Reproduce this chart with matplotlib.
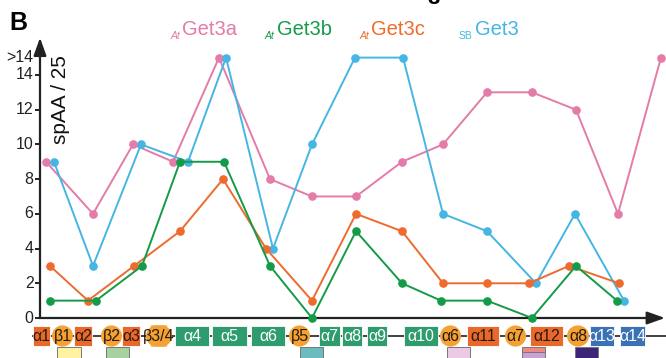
import matplotlib
matplotlib.use("Agg")
import matplotlib.pyplot as plt
from matplotlib.patches import Rectangle, Ellipse, FancyBboxPatch

plt.rcParams['font.family'] = ['Liberation Sans', 'DejaVu Sans']

# spAA scores per secondary-structure position (15 = ">14")
pos_a = [6, 53, 93, 133, 179, 230, 272, 316, 362, 403, 447, 492, 536, 578, 621]
get3a = [9, 6, 10, 9, 15, 8, 7, 7, 9, 10, 13, 13, 12, 6, 15]

pos_b = [10, 56, 102, 140, 184, 230, 272, 316, 362, 401, 447, 492, 536, 577]
get3b = [1, 1, 3, 9, 9, 3, 0, 5, 2, 1, 1, 0, 3, 1]

pos_c = [10, 48, 94, 140, 183, 226, 272, 316, 362, 403, 447, 489, 529, 579]
get3c = [3, 1, 3, 5, 8, 4, 1, 6, 5, 2, 2, 2, 3, 2]

pos_sb = [14, 53, 101, 148, 186, 233, 272, 315, 363, 403, 447, 496, 535, 584]
sbget3 = [9, 3, 10, 9, 15, 4, 10, 15, 15, 6, 5, 2, 6, 1]

ytick_vals = [0, 2, 4, 6, 8, 10, 12, 14, 15]
ytick_labels = ['0', '2', '4', '6', '8', '10', '12', '14', '>14']

# topology: helices drawn as boxes (label, start, end, kind)
helices = [
    ('α1', -7, 10, 'a'), ('α2', 34, 52, 'a'), ('α3', 82, 100, 'a'),
    ('α4', 135, 169, 'g'), ('α5', 172, 207, 'g'), ('α6', 211, 245, 'g'),
    ('α7', 279, 300, 'g'), ('α8', 302, 322, 'g'), ('α9', 327, 347, 'g'),
    ('α10', 364, 398, 'g'), ('α11', 427, 459, 'a'), ('α12', 490, 523, 'a'),
    ('α13', 550, 574, 'b'), ('α14', 580, 605, 'b'),
]
# strands / short elements drawn as round badges (label, start, end)
strands = [
    ('β1', 12, 33), ('β2', 61, 82), ('β3/4', 106, 132), ('β5', 249, 270),
    ('α6', 400, 421), ('α7', 465, 486), ('α8', 527, 549),
]
# colour key squares under the topology (start, end, colours top->bottom)
keys = [
    (17, 41, ['#fff3a3']), (66, 89, ['#a6d29f']), (260, 283, ['#6cbcbf']),
    (407, 430, ['#ecc9e4']), (482, 505, ['#ee8a86', '#c9a2d3']),
    (535, 558, ['#3d2577']),
]

PINK = '#e47ba8'
GREEN = '#139b48'
ORANGE = '#ee6b2d'
BLUE = '#45b6e4'
box_col = {'a': '#e8692b', 'g': '#2e9c6c', 'b': '#3b72b6'}
badge_col = '#f3a233'

fig = plt.figure(figsize=(6.66, 3.58), dpi=100)
ax = fig.add_axes([0, 0, 1, 1])
ax.set_xlim(-40, 626)
ax.set_ylim(-2.304, 18.318)
ax.axis('off')

# axes with arrow heads
arrow = dict(arrowstyle='-|>,head_length=0.45,head_width=0.16', color='#222222',
             lw=1.6, shrinkA=0, shrinkB=0, mutation_scale=24)
ax.annotate('', xy=(0, 16.15), xytext=(0, 0), arrowprops=arrow)
ax.annotate('', xy=(625, 0), xytext=(-0.8, 0), arrowprops=arrow)

for v, lab in zip(ytick_vals, ytick_labels):
    if lab != '>14':
        ax.plot([-5.5, 0], [v, v], color='#222222', lw=1.4, solid_capstyle='butt')
    ax.text(-6.5, v, lab, ha='right', va='center', fontsize=11.5, color='#222222')

ax.text(20, 12.6, 'spAA / 25', rotation=90, ha='center', va='center',
        fontsize=15, color='#111111')

for xs, ys, c in [(pos_a, get3a, PINK), (pos_sb, sbget3, BLUE),
                  (pos_c, get3c, ORANGE), (pos_b, get3b, GREEN)]:
    ax.plot(xs, ys, '-o', color=c, lw=1.4, ms=5.2, clip_on=False, zorder=3)

# series names
names = [('At', 'Get3a', PINK, 131, 142), ('At', 'Get3b', GREEN, 225, 237),
         ('At', 'Get3c', ORANGE, 320, 331), ('SB', 'Get3', BLUE, 419, 435)]
for sub, main, c, xs_, xm in names:
    ax.text(xm, 16.3, main, color=c, fontsize=14.5, ha='left', va='baseline')
    ax.text(xs_, 16.1, sub, color=c, fontsize=7.5, ha='left', va='baseline',
            style='italic' if sub == 'At' else 'normal')

ax.text(-31, 16.6, 'B', fontsize=18, fontweight='bold', ha='left', va='baseline')
ax.text(394, 18.08, '3', fontsize=16, fontweight='bold', ha='center', va='baseline',
        clip_on=False)

# topology bar
yl = -1.037
bh = 1.15
ax.plot([-7, 626], [yl, yl], color='#333333', lw=1.3, zorder=1, clip_on=False)
for lab, x0, x1, k in helices:
    ax.add_patch(Rectangle((x0, yl - bh / 2), x1 - x0, bh, facecolor=box_col[k],
                           edgecolor='white', lw=0.6, zorder=2))
    tc = '#2a1a10' if k == 'a' else 'white'
    ax.text((x0 + x1) / 2, yl - 0.03, lab, ha='center', va='center', fontsize=11.5,
            color=tc, zorder=4)
for lab, x0, x1 in strands:
    w = x1 - x0
    h = 1.22
    if w > 22:
        ax.add_patch(FancyBboxPatch((x0 + h * 4, yl - h / 2), w - h * 8, h,
                                    boxstyle='round,pad=0,rounding_size=0.6',
                                    mutation_aspect=1 / 17.36,
                                    facecolor=badge_col, edgecolor='none', zorder=2))
        ax.add_patch(Ellipse((x0 + 10.5, yl), 21, h, facecolor=badge_col, edgecolor='none', zorder=2))
        ax.add_patch(Ellipse((x1 - 10.5, yl), 21, h, facecolor=badge_col, edgecolor='none', zorder=2))
    else:
        ax.add_patch(Ellipse(((x0 + x1) / 2, yl), w, h, facecolor=badge_col,
                             edgecolor='none', zorder=2))
    ax.text((x0 + x1) / 2, yl - 0.03, lab, ha='center', va='center', fontsize=11.5,
            color='#2a1a10', zorder=4)

for x0, x1, cols in keys:
    top = -1.67
    seg = 0.3 if len(cols) > 1 else 1.0
    for i, c in enumerate(cols):
        hgt = seg if i < len(cols) - 1 else 1.0
        ax.add_patch(Rectangle((x0, top - hgt), x1 - x0, hgt, facecolor=c,
                               edgecolor='#777777', lw=0.7, zorder=2))
        top -= hgt

fig.savefig('out.png', dpi=100)
